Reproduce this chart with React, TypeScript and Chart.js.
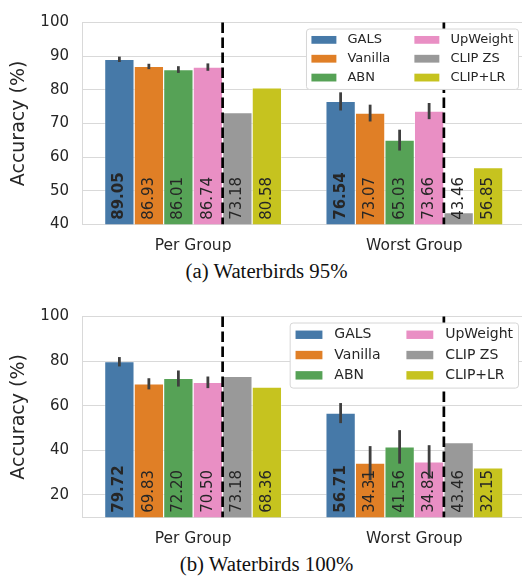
import React, { useEffect, useRef } from "react";
import { Chart, registerables } from "chart.js";

Chart.register(...registerables);

// ---------- data ----------
const categories = ["Per Group", "Worst Group"];
const methods = ["GALS", "Vanilla", "ABN", "UpWeight", "CLIP ZS", "CLIP+LR"];
const methodColors = ["#4679a8", "#e07f26", "#56a256", "#e98fc4", "#999999", "#c6c31f"];

// (a) Waterbirds 95%
const wb95_GALS = [89.05, 76.54];
const wb95_Vanilla = [86.93, 73.07];
const wb95_ABN = [86.01, 65.03];
const wb95_UpWeight = [86.74, 73.66];
const wb95_CLIPZS = [73.18, 43.46];
const wb95_CLIPLR = [80.58, 56.85];
const wb95_GALS_err = [0.8, 2.7];
const wb95_Vanilla_err = [0.8, 2.5];
const wb95_ABN_err = [1.0, 3.1];
const wb95_UpWeight_err = [1.1, 2.4];
const wb95Range = [40, 100];
const wb95Ticks = [40, 50, 60, 70, 80, 90, 100];

// (b) Waterbirds 100%
const wb100_GALS = [79.72, 56.71];
const wb100_Vanilla = [69.83, 34.31];
const wb100_ABN = [72.2, 41.56];
const wb100_UpWeight = [70.5, 34.82];
const wb100_CLIPZS = [73.18, 43.46];
const wb100_CLIPLR = [68.36, 32.15];
const wb100_GALS_err = [2.1, 4.5];
const wb100_Vanilla_err = [2.5, 7.6];
const wb100_ABN_err = [3.6, 7.5];
const wb100_UpWeight_err = [2.6, 7.5];
const wb100Range = [10, 100];
const wb100Ticks = [20, 40, 60, 80, 100];

const yTitle = "Accuracy (%)";
const captionA = "(a) Waterbirds 95%";
const captionB = "(b) Waterbirds 100%";

// ---------- styles ----------
const FONT = '"DejaVu Sans", sans-serif';
const TEXT = "#262626";
const GRID = "#d9d9d9";
const ERR = "#3f3f3f";

function drawLegend(chart: any, fs: number) {
  const ctx = chart.ctx;
  const area = chart.chartArea;
  const ds = chart.data.datasets;
  ctx.save();
  ctx.font = `${fs}px ${FONT}`;
  const swW = 1.92 * fs, swH = 0.6 * fs, gap = 0.85 * fs, colSp = 1.85 * fs;
  const padL = 0.42 * fs, padR = 0.35 * fs, rowH = 1.45 * fs, padY = 0.15 * fs;
  const cols = [ds.slice(0, 3), ds.slice(3, 6)];
  const colTextW = cols.map((c: any[]) => Math.max(...c.map((d) => ctx.measureText(d.label).width)));
  const colW = colTextW.map((w: number) => swW + gap + w);
  const boxW = padL + colW[0] + colSp + colW[1] + padR;
  const boxH = 2 * padY + 3 * rowH;
  const right = area.right - 7;
  const top = area.top + 6;
  const left = right - boxW;
  ctx.beginPath();
  ctx.roundRect(left + 0.5, top + 0.5, boxW, boxH, 3);
  ctx.fillStyle = "#ffffff";
  ctx.fill();
  ctx.lineWidth = 1;
  ctx.strokeStyle = "#d6d6d6";
  ctx.stroke();
  ctx.textBaseline = "middle";
  ctx.textAlign = "left";
  cols.forEach((c: any[], ci: number) => {
    const cx = left + padL + (ci === 0 ? 0 : colW[0] + colSp);
    c.forEach((d, r) => {
      const cy = top + padY + rowH * (r + 0.5);
      ctx.fillStyle = d.backgroundColor;
      ctx.fillRect(cx, cy - swH / 2, swW, swH);
      ctx.fillStyle = TEXT;
      ctx.fillText(d.label, cx + swW + gap, cy);
    });
  });
  ctx.restore();
}

const overlayPlugin = {
  id: "overlay",
  afterDatasetsDraw(chart: any) {
    const ctx = chart.ctx;
    const area = chart.chartArea;
    const yScale = chart.scales.y;
    const dsets = chart.data.datasets;
    // error bars
    ctx.save();
    ctx.strokeStyle = ERR;
    ctx.lineWidth = 2.8;
    ctx.lineCap = "butt";
    dsets.forEach((d: any, i: number) => {
      if (!d.errors) return;
      const meta = chart.getDatasetMeta(i);
      meta.data.forEach((bar: any, j: number) => {
        const v = d.data[j];
        const e = d.errors[j];
        ctx.beginPath();
        ctx.moveTo(bar.x, yScale.getPixelForValue(v - e));
        ctx.lineTo(bar.x, yScale.getPixelForValue(v + e));
        ctx.stroke();
      });
    });
    ctx.restore();
    // value labels
    ctx.save();
    dsets.forEach((d: any, i: number) => {
      const meta = chart.getDatasetMeta(i);
      ctx.font = `${i === 0 ? "bold " : ""}15px ${FONT}`;
      ctx.fillStyle = TEXT;
      ctx.textAlign = "left";
      ctx.textBaseline = "middle";
      meta.data.forEach((bar: any, j: number) => {
        ctx.save();
        ctx.translate(bar.x, area.bottom - 4.5);
        ctx.rotate(-Math.PI / 2);
        ctx.fillText(Number(d.data[j]).toFixed(2), 0, 0);
        ctx.restore();
      });
    });
    ctx.restore();
    // dashed separators between UpWeight and CLIP ZS
    ctx.save();
    ctx.strokeStyle = "#000000";
    ctx.lineWidth = 2.7;
    ctx.setLineDash([10.5, 4.5]);
    const m3 = chart.getDatasetMeta(3);
    const m4 = chart.getDatasetMeta(4);
    m3.data.forEach((bar: any, j: number) => {
      const x = (bar.x + m4.data[j].x) / 2;
      ctx.beginPath();
      ctx.moveTo(x, area.top);
      ctx.lineTo(x, area.bottom);
      ctx.stroke();
    });
    ctx.restore();
    // legend
    drawLegend(chart, chart.options.plugins.overlay.legendFont);
  },
};

type PanelCfg = {
  top: number;
  padTop: number;
  xAxisH: number;
  range: number[];
  ticks: number[];
  legendFont: number;
  series: number[][];
  errors: (number[] | null)[];
};

function Panel({ cfg }: { cfg: PanelCfg }) {
  const ref = useRef<HTMLCanvasElement>(null);
  useEffect(() => {
    if (!ref.current) return;
    const chart = new Chart(ref.current, {
      type: "bar",
      data: {
        labels: categories,
        datasets: methods.map((m, i) => ({
          label: m,
          data: cfg.series[i],
          errors: cfg.errors[i],
          backgroundColor: methodColors[i],
          borderColor: "#ffffff",
          borderWidth: { top: 0.6, left: 0.6, right: 0.6, bottom: 0 },
          categoryPercentage: 0.8,
          barPercentage: 1.0,
        })) as any,
      },
      options: {
        responsive: false,
        animation: false,
        events: [],
        layout: { padding: { left: 0, top: cfg.padTop, right: 5, bottom: 0 } },
        plugins: {
          legend: { display: false },
          tooltip: { enabled: false },
          title: { display: false },
          overlay: { legendFont: cfg.legendFont },
        } as any,
        scales: {
          x: {
            type: "category",
            grid: { display: false },
            border: { display: true, color: GRID, width: 1 },
            ticks: { color: TEXT, font: { family: FONT, size: 15.5 }, padding: 4 },
            afterFit: (s: any) => {
              s.height = cfg.xAxisH;
            },
          },
          y: {
            type: "linear",
            min: cfg.range[0],
            max: cfg.range[1],
            afterBuildTicks: (s: any) => {
              s.ticks = cfg.ticks.map((v) => ({ value: v }));
            },
            grid: { color: GRID, lineWidth: 1, drawTicks: false },
            border: { display: true, color: GRID, width: 1 },
            ticks: { color: TEXT, font: { family: FONT, size: 15 }, padding: 13.5 },
            title: {
              display: true,
              text: yTitle,
              color: TEXT,
              font: { family: FONT, size: 19 },
              padding: { top: 7.5, bottom: 0 },
            },
            afterFit: (s: any) => {
              s.width = 82.5;
            },
          },
        },
      },
      plugins: [overlayPlugin],
    });
    return () => chart.destroy();
  }, [cfg]);
  return (
    <canvas
      ref={ref}
      width={530}
      height={252}
      style={{ position: "absolute", left: 0, top: cfg.top, width: 530, height: 252 }}
    />
  );
}

const panelA: PanelCfg = {
  top: 0,
  padTop: 9,
  xAxisH: 27.7,
  range: wb95Range,
  ticks: wb95Ticks,
  legendFont: 13,
  series: [wb95_GALS, wb95_Vanilla, wb95_ABN, wb95_UpWeight, wb95_CLIPZS, wb95_CLIPLR],
  errors: [wb95_GALS_err, wb95_Vanilla_err, wb95_ABN_err, wb95_UpWeight_err, null, null],
};

const panelB: PanelCfg = {
  top: 294,
  padTop: 9.3,
  xAxisH: 28.7,
  range: wb100Range,
  ticks: wb100Ticks,
  legendFont: 14,
  series: [wb100_GALS, wb100_Vanilla, wb100_ABN, wb100_UpWeight, wb100_CLIPZS, wb100_CLIPLR],
  errors: [wb100_GALS_err, wb100_Vanilla_err, wb100_ABN_err, wb100_UpWeight_err, null, null],
};

const captionStyle: React.CSSProperties = {
  position: "absolute",
  left: 0,
  width: 533,
  textAlign: "center",
  fontFamily: '"Liberation Serif", "Times New Roman", serif',
  fontSize: 20.8,
  lineHeight: 1,
  color: "#111111",
  whiteSpace: "nowrap",
};

export default function App() {
  return (
    <div
      style={{
        position: "absolute",
        left: 0,
        top: 0,
        width: 522,
        height: 577,
        overflow: "hidden",
        background: "#ffffff",
      }}
    >
      <Panel cfg={panelA} />
      <div style={{ ...captionStyle, top: 260.6 }}>{captionA}</div>
      <Panel cfg={panelB} />
      <div style={{ ...captionStyle, top: 553.9 }}>{captionB}</div>
    </div>
  );
}
